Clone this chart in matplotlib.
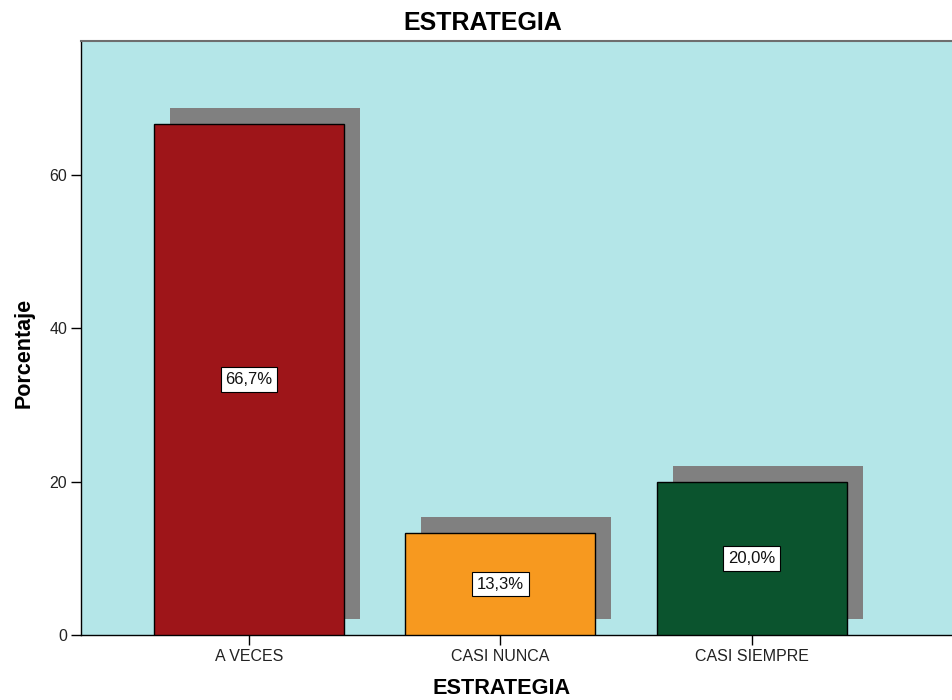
import matplotlib
matplotlib.use("Agg")
import matplotlib.pyplot as plt
import matplotlib.transforms as mtransforms

plt.rcParams['font.family'] = ['Liberation Sans', 'DejaVu Sans']

categories = ["A VECES", "CASI NUNCA", "CASI SIEMPRE"]
percentages = [66.7, 13.3, 20.0]
bar_colors = ["#9E1519", "#F7991F", "#0B542E"]
yticks = [0, 20, 40, 60]

fig = plt.figure(figsize=(9.53, 7.0), dpi=100)
ax = fig.add_axes([81 / 953, 65 / 700, 1 - 81 / 953, (635 - 41) / 700])
ax.set_facecolor("#B4E6E8")

x = list(range(len(categories)))
width = 0.754

# drop shadows: same bars shifted right and up by a fixed pixel offset
shadow = ax.bar(x, percentages, width=width, color="#808080", linewidth=0, zorder=2)
offset = mtransforms.ScaledTranslation(16 / 100, 16 / 100, fig.dpi_scale_trans)
for p in shadow.patches:
    p.set_transform(ax.transData + offset)

bars = ax.bar(x, percentages, width=width, color=bar_colors,
              edgecolor="black", linewidth=1.0, zorder=3)

for xi, v in zip(x, percentages):
    ax.text(xi, v / 2, f"{v:.1f}%".replace(".", ","), ha="center", va="center",
            fontsize=12, color="#111111", zorder=5,
            bbox=dict(boxstyle="square,pad=0.28", facecolor="white",
                      edgecolor="black", linewidth=0.8))

ax.set_xlim(-0.667, 2.8)
ax.set_ylim(0, 77.5)
ax.set_xticks(x)
ax.set_xticklabels(categories)
ax.set_yticks(yticks)
ax.tick_params(axis="both", length=7, width=1, color="black",
               labelsize=11.5, labelcolor="#222222", direction="out", pad=3)

ax.spines["right"].set_visible(False)
ax.spines["top"].set_color("#6E6E6E")
ax.spines["top"].set_linewidth(1.5)
for s in ("left", "bottom"):
    ax.spines[s].set_color("black")
    ax.spines[s].set_linewidth(1.0)

fig.text(483 / 953, 1 - 30 / 700, "ESTRATEGIA", ha="center", va="baseline",
         fontsize=18, fontweight="bold")
fig.text(502 / 953, 1 - 694 / 700, "ESTRATEGIA", ha="center", va="baseline",
         fontsize=15.6, fontweight="bold")
fig.text(24 / 953, 1 - 353 / 700, "Porcentaje", ha="center", va="center",
         rotation=90, fontsize=15.5, fontweight="bold")

fig.savefig("out.png", dpi=100)
